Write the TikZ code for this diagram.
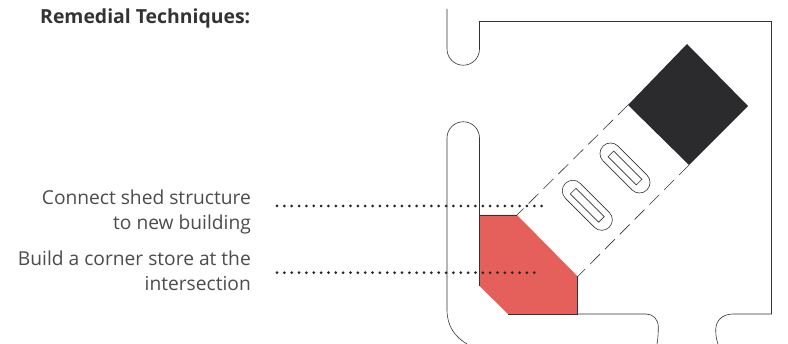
\documentclass[tikz,border=0pt]{standalone}
\usepackage{fontspec}
\setmainfont{Open Sans}
\usetikzlibrary{positioning}
\definecolor{storered}{HTML}{E5605A}
\definecolor{shedgrey}{HTML}{2B2B2D}
\tikzset{
  plotline/.style={draw=black!80, line width=0.6pt},
  sitedash/.style={draw=black!80, line width=0.6pt, dash pattern=on 14pt off 7pt},
  storefill/.style={fill=storered, draw=none},
  shedfill/.style={fill=shedgrey, draw=none},
  slotouter/.style={draw=black!80, line width=0.6pt, rounded corners=10.4pt, rotate=-45,
                    minimum width=62pt, minimum height=21pt, inner sep=0pt, fill=white},
  slotinner/.style={draw=black!80, line width=0.6pt, rotate=-45,
                    minimum width=40pt, minimum height=8pt, inner sep=0pt},
  notelabel/.style={align=right, anchor=north east, font=\fontsize{19.2}{25}\selectfont,
                    text=black!70, inner sep=0pt},
  leader/.style={draw=black!85, line width=3pt, line cap=round,
                 dash pattern=on 0pt off 7.35pt},
}
\begin{document}
\begin{tikzpicture}[x=1pt, y=-1pt]
  \useasboundingbox (0,0) rectangle (788,344);

  % shed and store
  \fill[shedfill] (687,44) -- (748,106) -- (689,165) -- (628,105) -- cycle;
  \fill[storefill] (479.5,215) -- (517,215) -- (577.7,276.5) -- (577.7,314)
    -- (508,314) -- (479.5,286) -- cycle;
  \draw[sitedash] (628,105) -- (517,215);
  \draw[sitedash] (689,165) -- (577.7,276.5);

  % block outline
  \draw[plotline] (447,9) -- (447,49) arc[start angle=180, end angle=0, radius=16.25]
    -- (479.5,21.5) -- (771.5,21.5) -- (771.5,314) -- (733,314)
    .. controls (722,314) and (715.7,321) .. (715.7,330)
    .. controls (715.7,335) and (716.5,340) .. (718,344);
  \draw[plotline] (657,344) .. controls (658,339) and (658.3,333) .. (658.3,327)
    .. controls (658.3,319) and (653,314) .. (646,314) -- (577.7,314);
  \draw[plotline] (508,314) -- (577.7,314) -- (577.7,276.5);
  \draw[plotline] (479.5,215) -- (479.5,286);
  \draw[plotline] (479.5,215) -- (517,215);
  \draw[plotline] (467,344) .. controls (455,337) and (447,326) .. (447,310)
    -- (447,138) arc[start angle=180, end angle=360, radius=16.25] -- (479.5,215);

  % slots in the shed
  \node[slotouter] (slotlow) at (587.3,205.3) {};
  \node[slotinner] (slotlowin) at (587.3,205.3) {};
  \node[slotouter] (slotup) at (625,168) {};
  \node[slotinner] (slotupin) at (625,168) {};

  % text
  \node[anchor=base west, inner sep=0pt, font=\fontsize{19.4}{24}\selectfont\bfseries,
        text=black!80] (title) at (40,23.5) {Remedial Techniques:};
  \node[notelabel] (connlabel) at (251,190) {Connect shed structure\\to new building};
  \node[notelabel] (buildlabel) at (251,250.6) {Build a corner store at the\\intersection};

  \coordinate (connstart) at (277,206);
  \coordinate (connend) at (546,206);
  \coordinate (buildstart) at (277,272.7);
  \coordinate (buildend) at (535,272.7);
  \foreach \a/\b in {connstart/connend, buildstart/buildend} {
    \draw[leader] (\a) -- (\b);
  }
\end{tikzpicture}
\end{document}
